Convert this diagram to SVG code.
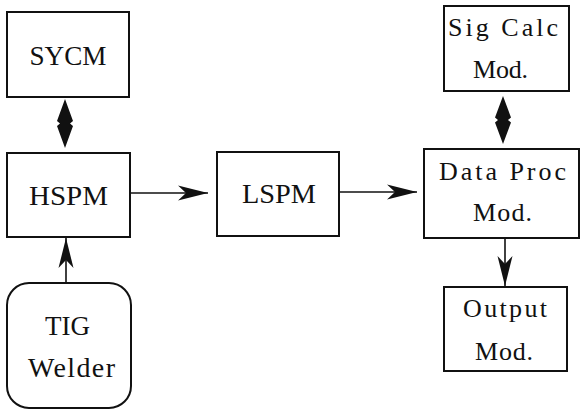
<svg xmlns="http://www.w3.org/2000/svg" width="581" height="410" viewBox="0 0 581 410">
<style>
.box{fill:#fff;stroke:#111;stroke-width:2}
.t{font-family:"Liberation Serif",Tinos,"Noto Serif","DejaVu Serif",FreeSerif,"Times New Roman",Times,serif;fill:#111;text-anchor:middle;font-size:28px}
.r{font-size:26px}
.c{stroke:#111;stroke-width:1.6;fill:none}
.dh{fill:#111;stroke:none}
</style>
<defs>
<marker id="ah" markerUnits="userSpaceOnUse" markerWidth="32" markerHeight="18" viewBox="-31 -9 32 18" refX="0" refY="0" orient="auto-start-reverse">
<path d="M0,0 L-30,-7.5 L-22,0 L-30,7.5 Z" fill="#111"/>
</marker>
</defs>
<rect width="581" height="410" fill="#fff"/>
<g id="connectors">
<path class="dh" d="M65,99 L57,121 L60,123.5 L57,126 L65,148 L73,126 L70,123.5 L73,121 Z"/>
<line class="c" x1="66" y1="283" x2="66" y2="238" marker-end="url(#ah)"/>
<line class="c" x1="131" y1="193" x2="208" y2="193" marker-end="url(#ah)"/>
<line class="c" x1="340" y1="192" x2="417" y2="192" marker-end="url(#ah)"/>
<path class="dh" d="M503,96 L495,117.5 L498,120 L495,122.5 L503,144 L511,122.5 L508,120 L511,117.5 Z"/>
<line class="c" x1="505" y1="238" x2="505" y2="286" marker-end="url(#ah)"/>
</g>
<g id="sycm">
<rect class="box" x="7" y="12" width="122" height="85"/>
<text class="t" x="68" y="65" textLength="77" lengthAdjust="spacingAndGlyphs">SYCM</text>
</g>
<g id="hspm">
<rect class="box" x="7" y="153" width="123" height="84"/>
<text class="t" x="68.5" y="205" textLength="79" lengthAdjust="spacingAndGlyphs">HSPM</text>
</g>
<g id="tig">
<rect class="box" x="7" y="283" width="124" height="125" rx="22" ry="22"/>
<text class="t" x="67.5" y="335" textLength="45" lengthAdjust="spacingAndGlyphs">TIG</text>
<text class="t" x="71.5" y="377" textLength="87" lengthAdjust="spacing">Welder</text>
</g>
<g id="lspm">
<rect class="box" x="217" y="152" width="122" height="84"/>
<text class="t" x="279" y="203" textLength="74" lengthAdjust="spacingAndGlyphs">LSPM</text>
</g>
<g id="sigcalc">
<rect class="box" x="444" y="6" width="125" height="85"/>
<text class="t r" x="503" y="36" textLength="110" lengthAdjust="spacing">Sig Calc</text>
<text class="t r" x="500.5" y="78" textLength="55" lengthAdjust="spacing">Mod.</text>
</g>
<g id="dataproc">
<rect class="box" x="424" y="149" width="155" height="89"/>
<text class="t r" x="502.5" y="180" textLength="127" lengthAdjust="spacing">Data Proc</text>
<text class="t r" x="502.5" y="221" textLength="59" lengthAdjust="spacing">Mod.</text>
</g>
<g id="output">
<rect class="box" x="444" y="287" width="123" height="84"/>
<text class="t r" x="505" y="317" textLength="84" lengthAdjust="spacing">Output</text>
<text class="t r" x="504" y="360" textLength="58" lengthAdjust="spacing">Mod.</text>
</g>
</svg>
